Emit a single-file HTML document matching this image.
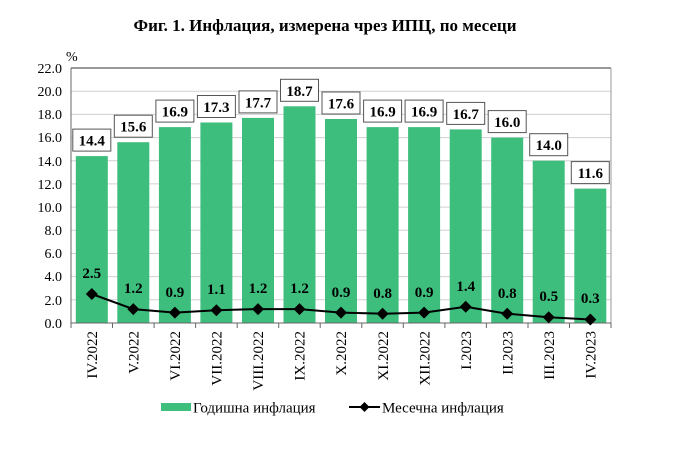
<!DOCTYPE html>
<html><head><meta charset="utf-8"><style>
body{margin:0;background:#fff}
svg{display:block;font-family:"Liberation Serif","DejaVu Serif",serif}
</style></head><body>
<svg width="696" height="475" viewBox="0 0 696 475" xmlns="http://www.w3.org/2000/svg">
<text x="325" y="31" text-anchor="middle" font-size="17" font-weight="bold">Фиг. 1. Инфлация, измерена чрез ИПЦ, по месеци</text>
<text x="66" y="61" font-size="14">%</text>
<g stroke="#d0d0d0" stroke-width="1">
<line x1="71" x2="611" y1="91.2" y2="91.2"/><line x1="71" x2="611" y1="114.4" y2="114.4"/>
<line x1="71" x2="611" y1="137.6" y2="137.6"/><line x1="71" x2="611" y1="160.7" y2="160.7"/>
<line x1="71" x2="611" y1="183.9" y2="183.9"/><line x1="71" x2="611" y1="207.1" y2="207.1"/>
<line x1="71" x2="611" y1="230.3" y2="230.3"/><line x1="71" x2="611" y1="253.5" y2="253.5"/>
<line x1="71" x2="611" y1="276.6" y2="276.6"/><line x1="71" x2="611" y1="299.8" y2="299.8"/>
</g>
<line x1="71" x2="611" y1="68" y2="68" stroke="#333"/>
<line x1="611" x2="611" y1="68" y2="323" stroke="#999"/>
<g text-anchor="end" font-size="14">
<text x="62" y="73">22.0</text><text x="62" y="96">20.0</text><text x="62" y="119">18.0</text>
<text x="62" y="142">16.0</text><text x="62" y="166">14.0</text><text x="62" y="189">12.0</text>
<text x="62" y="212">10.0</text><text x="62" y="235">8.0</text><text x="62" y="258">6.0</text>
<text x="62" y="281">4.0</text><text x="62" y="305">2.0</text><text x="62" y="328">0.0</text>
</g>
<g fill="#3dbe7d">
<rect x="75.8" y="156.1" width="32" height="166.9"/>
<rect x="117.3" y="142.2" width="32" height="180.8"/>
<rect x="158.9" y="127.1" width="32" height="195.9"/>
<rect x="200.4" y="122.5" width="32" height="200.5"/>
<rect x="242" y="117.9" width="32" height="205.1"/>
<rect x="283.5" y="106.3" width="32" height="216.7"/>
<rect x="325" y="119" width="32" height="204"/>
<rect x="366.6" y="127.1" width="32" height="195.9"/>
<rect x="408.1" y="127.1" width="32" height="195.9"/>
<rect x="449.7" y="129.4" width="32" height="193.6"/>
<rect x="491.2" y="137.6" width="32" height="185.4"/>
<rect x="532.7" y="160.7" width="32" height="162.3"/>
<rect x="574.3" y="188.6" width="32" height="134.4"/>
</g>
<line x1="71" x2="71" y1="68" y2="323" stroke="#666"/>
<line x1="71" x2="611" y1="323" y2="323" stroke="#666"/>
<g stroke="#666">
<line x1="71" x2="71" y1="323" y2="328"/><line x1="112.5" x2="112.5" y1="323" y2="328"/>
<line x1="154.1" x2="154.1" y1="323" y2="328"/><line x1="195.6" x2="195.6" y1="323" y2="328"/>
<line x1="237.2" x2="237.2" y1="323" y2="328"/><line x1="278.7" x2="278.7" y1="323" y2="328"/>
<line x1="320.2" x2="320.2" y1="323" y2="328"/><line x1="361.8" x2="361.8" y1="323" y2="328"/>
<line x1="403.3" x2="403.3" y1="323" y2="328"/><line x1="444.9" x2="444.9" y1="323" y2="328"/>
<line x1="486.4" x2="486.4" y1="323" y2="328"/><line x1="528" x2="528" y1="323" y2="328"/>
<line x1="569.5" x2="569.5" y1="323" y2="328"/><line x1="611" x2="611" y1="323" y2="328"/>
</g>
<g fill="#fff" stroke="#555" stroke-width="1">
<rect x="72.8" y="129.1" width="38" height="22"/>
<rect x="114.3" y="115.2" width="38" height="22"/>
<rect x="155.9" y="100.1" width="38" height="22"/>
<rect x="197.4" y="95.5" width="38" height="22"/>
<rect x="239" y="90.9" width="38" height="22"/>
<rect x="280.5" y="79.3" width="38" height="22"/>
<rect x="322" y="92" width="38" height="22"/>
<rect x="363.6" y="100.1" width="38" height="22"/>
<rect x="405.1" y="100.1" width="38" height="22"/>
<rect x="446.7" y="102.4" width="38" height="22"/>
<rect x="488.2" y="110.6" width="38" height="22"/>
<rect x="529.7" y="133.7" width="38" height="22"/>
<rect x="571.3" y="161.6" width="38" height="22"/>
</g>
<g text-anchor="middle" font-size="15" font-weight="bold">
<text x="91.8" y="145.6">14.4</text><text x="133.3" y="131.7">15.6</text>
<text x="174.9" y="116.6">16.9</text><text x="216.4" y="112">17.3</text>
<text x="258" y="107.4">17.7</text><text x="299.5" y="95.8">18.7</text>
<text x="341" y="108.5">17.6</text><text x="382.6" y="116.6">16.9</text>
<text x="424.1" y="116.6">16.9</text><text x="465.7" y="118.9">16.7</text>
<text x="507.2" y="127.1">16.0</text><text x="548.7" y="150.2">14.0</text>
<text x="590.3" y="178.1">11.6</text>
</g>
<polyline fill="none" stroke="#000" stroke-width="2" points="91.8,294 133.3,309.1 174.9,312.6 216.4,310.3 258,309.1 299.5,309.1 341,312.6 382.6,313.7 424.1,312.6 465.7,306.8 507.2,313.7 548.7,317.2 590.3,319.5"/>
<g fill="#000">
<path d="M91.8 288l6 6-6 6-6-6z"/><path d="M133.3 303.1l6 6-6 6-6-6z"/>
<path d="M174.9 306.6l6 6-6 6-6-6z"/><path d="M216.4 304.3l6 6-6 6-6-6z"/>
<path d="M258 303.1l6 6-6 6-6-6z"/><path d="M299.5 303.1l6 6-6 6-6-6z"/>
<path d="M341 306.6l6 6-6 6-6-6z"/><path d="M382.6 307.7l6 6-6 6-6-6z"/>
<path d="M424.1 306.6l6 6-6 6-6-6z"/><path d="M465.7 300.8l6 6-6 6-6-6z"/>
<path d="M507.2 307.7l6 6-6 6-6-6z"/><path d="M548.7 311.2l6 6-6 6-6-6z"/>
<path d="M590.3 313.5l6 6-6 6-6-6z"/>
</g>
<g text-anchor="middle" font-size="15" font-weight="bold">
<text x="91.8" y="278">2.5</text><text x="133.3" y="293">1.2</text>
<text x="174.9" y="297">0.9</text><text x="216.4" y="294">1.1</text>
<text x="258" y="293">1.2</text><text x="299.5" y="293">1.2</text>
<text x="341" y="297">0.9</text><text x="382.6" y="298">0.8</text>
<text x="424.1" y="297">0.9</text><text x="465.7" y="291">1.4</text>
<text x="507.2" y="298">0.8</text><text x="548.7" y="301">0.5</text>
<text x="590.3" y="303">0.3</text>
</g>
<g text-anchor="end" font-size="15">
<text transform="translate(97,331) rotate(-90)">IV.2022</text>
<text transform="translate(138.5,331) rotate(-90)">V.2022</text>
<text transform="translate(180.1,331) rotate(-90)">VI.2022</text>
<text transform="translate(221.6,331) rotate(-90)">VII.2022</text>
<text transform="translate(263.2,331) rotate(-90)">VIII.2022</text>
<text transform="translate(304.7,331) rotate(-90)">IX.2022</text>
<text transform="translate(346.2,331) rotate(-90)">X.2022</text>
<text transform="translate(387.8,331) rotate(-90)">XI.2022</text>
<text transform="translate(429.3,331) rotate(-90)">XII.2022</text>
<text transform="translate(470.9,331) rotate(-90)">I.2023</text>
<text transform="translate(512.4,331) rotate(-90)">II.2023</text>
<text transform="translate(553.9,331) rotate(-90)">III.2023</text>
<text transform="translate(595.5,331) rotate(-90)">IV.2023</text>
</g>
<rect x="161" y="403" width="30" height="8" fill="#3dbe7d"/>
<text x="193" y="412.5" font-size="15">Годишна инфлация</text>
<line x1="349" x2="380" y1="407" y2="407" stroke="#000" stroke-width="2"/>
<path d="M364.5 402l5 5-5 5-5-5z" fill="#000"/>
<text x="382" y="412.5" font-size="15">Месечна инфлация</text>
</svg>
</body></html>
